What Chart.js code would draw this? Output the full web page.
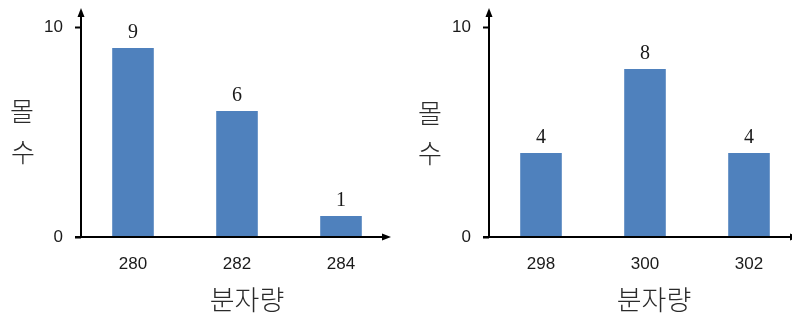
<!DOCTYPE html>
<html lang="ko">
<head>
<meta charset="utf-8">
<title>분자량 분포</title>
<script src="https://cdn.jsdelivr.net/npm/chart.js@4.4.1/dist/chart.umd.min.js"></script>
<style>
  html, body { margin: 0; padding: 0; background: #fff; overflow: hidden; }
  #wrap { position: relative; width: 792px; height: 321px; overflow: hidden; background: #fff; }
  .panel { position: absolute; top: 0; }
  .ko {
    position: absolute;
    font-family: "Noto Sans CJK KR", "Noto Sans", sans-serif;
    font-weight: 300;
    color: #2a2a2a;
    line-height: 1;
    white-space: nowrap;
    transform: translate(-50%, -50%);
  }
  .ytitle { font-size: 26px; }
  .xtitle { font-size: 27px; }
</style>
</head>
<body>
<div id="wrap">
  <div class="panel" style="left:0"><canvas id="left" width="400" height="321"></canvas></div>
  <div class="panel" style="left:400px"><canvas id="right" width="410" height="321"></canvas></div>

  <div class="ko ytitle" style="left:22px;top:110px">몰</div>
  <div class="ko ytitle" style="left:23px;top:151px">수</div>
  <div class="ko xtitle" style="left:247px;top:298px">분자량</div>

  <div class="ko ytitle" style="left:430px;top:112px">몰</div>
  <div class="ko ytitle" style="left:430px;top:152px">수</div>
  <div class="ko xtitle" style="left:654px;top:298px">분자량</div>
</div>

<script>
// Molecular mass categories and how many molecules fall in each
const massesA = ['280', '282', '284'];
const countsA = [9, 6, 1];
const massesB = ['298', '300', '302'];
const countsB = [4, 8, 4];
const countTicks = [0, 10];

const BAR_BLUE = '#4F81BD';

// Axis lines with arrowheads, drawn from the chart area the scales produce
const arrowAxes = {
  id: 'arrowAxes',
  afterDatasetsDraw(chart) {
    const { ctx, chartArea: { left, right, top, bottom } } = chart;
    ctx.save();
    ctx.strokeStyle = '#000';
    ctx.fillStyle = '#000';
    ctx.lineWidth = 2;
    ctx.beginPath();
    ctx.moveTo(left, bottom + 1);
    ctx.lineTo(left, top - 14);
    ctx.moveTo(left - 6, bottom);
    ctx.lineTo(right - 6, bottom);
    ctx.stroke();
    // vertical arrowhead
    ctx.beginPath();
    ctx.moveTo(left, top - 19);
    ctx.lineTo(left - 3.5, top - 10);
    ctx.lineTo(left + 3.5, top - 10);
    ctx.closePath();
    ctx.fill();
    // horizontal arrowhead
    ctx.beginPath();
    ctx.moveTo(right - 2, bottom);
    ctx.lineTo(right - 11, bottom - 3.5);
    ctx.lineTo(right - 11, bottom + 3.5);
    ctx.closePath();
    ctx.fill();
    ctx.restore();
  }
};

// Count written above each bar
const barValues = {
  id: 'barValues',
  afterDatasetsDraw(chart) {
    const { ctx } = chart;
    const ds = chart.data.datasets[0];
    const meta = chart.getDatasetMeta(0);
    ctx.save();
    ctx.font = '20px "Liberation Serif", "DejaVu Serif", serif';
    ctx.fillStyle = '#1a1a1a';
    ctx.textAlign = 'center';
    ctx.textBaseline = 'alphabetic';
    meta.data.forEach((bar, i) => {
      ctx.fillText(String(ds.data[i]), bar.x, bar.y - 10);
    });
    ctx.restore();
  }
};

function buildChart(id, labels, values, axisWidth, padRight) {
  return new Chart(document.getElementById(id), {
    type: 'bar',
    data: {
      labels: labels,
      datasets: [{
        data: values,
        backgroundColor: BAR_BLUE,
        borderWidth: 0,
        barPercentage: 0.4,
        categoryPercentage: 1.0
      }]
    },
    options: {
      responsive: false,
      animation: false,
      events: [],
      layout: { padding: { top: 27, right: padRight, bottom: 0, left: 0 } },
      plugins: { legend: { display: false }, tooltip: { enabled: false } },
      scales: {
        x: {
          type: 'category',
          offset: true,
          grid: { display: false, drawTicks: false },
          border: { display: false },
          ticks: {
            padding: 17,
            color: '#1a1a1a',
            font: { family: '"Liberation Sans", Arial, sans-serif', size: 17 }
          },
          afterFit(scale) { scale.height = 84; }
        },
        y: {
          min: countTicks[0],
          max: countTicks[countTicks.length - 1],
          afterBuildTicks(scale) {
            scale.ticks = countTicks.map(v => ({ value: v }));
          },
          grid: {
            drawOnChartArea: false,
            drawTicks: true,
            tickLength: 6,
            tickColor: '#000',
            tickWidth: 2
          },
          border: { display: false },
          ticks: {
            padding: 12,
            color: '#1a1a1a',
            font: { family: '"Liberation Sans", Arial, sans-serif', size: 17 }
          },
          afterFit(scale) { scale.width = axisWidth; }
        }
      }
    },
    plugins: [arrowAxes, barValues]
  });
}

buildChart('left', massesA, countsA, 81, 7);
buildChart('right', massesB, countsB, 89, 9);
</script>
</body>
</html>
